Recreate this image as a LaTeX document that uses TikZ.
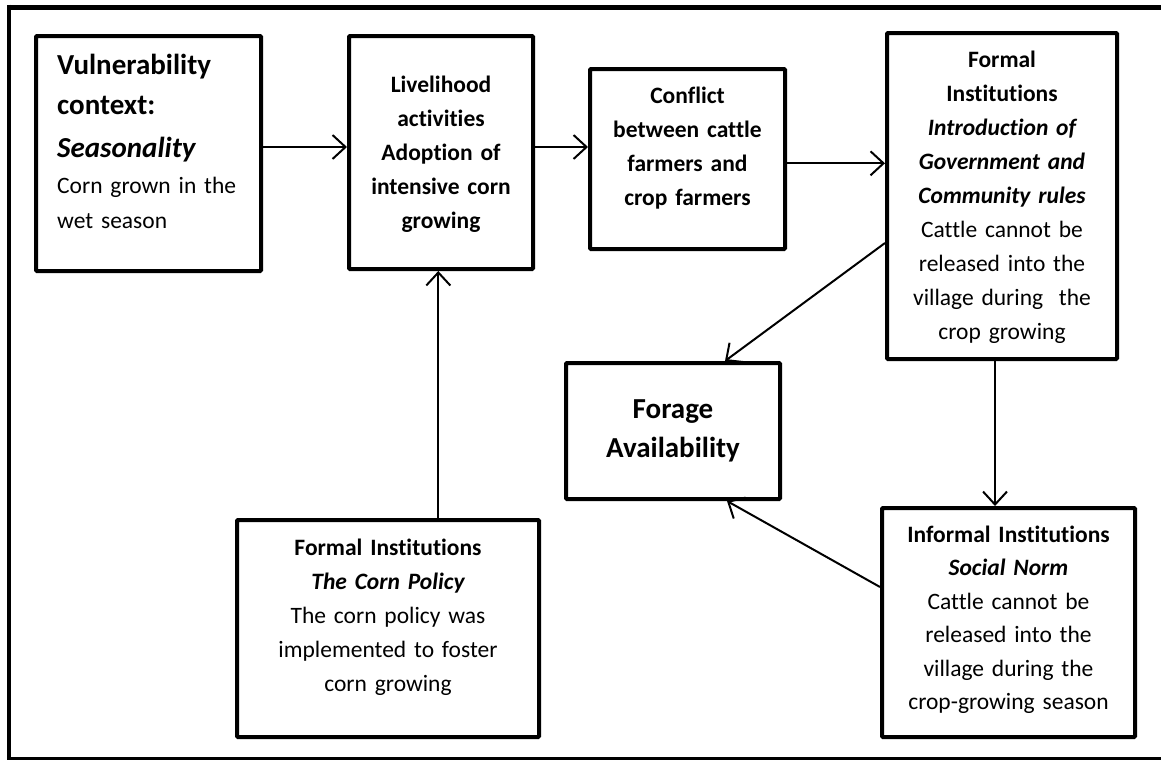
\documentclass[tikz,border=0pt]{standalone}
\usepackage{fontspec}
\setmainfont{Carlito}[Ligatures=NoCommon]
\usetikzlibrary{arrows.meta}
% keep a fixed baseline distance even for lines with tall glyphs
\lineskiplimit=-1000pt
\begin{document}
\begin{tikzpicture}[x=1pt,y=-1pt,
  box/.style={draw,line width=4pt,rounded corners=1pt,inner sep=0pt,
    rectangle,anchor=center},
  txt/.style={inner sep=0pt,anchor=base,align=center,text width=#1,
    font=\fontsize{23.5}{34}\selectfont},
  link/.style={line width=2pt,-{Straight Barb[length=13pt,width=24pt,line width=2pt]}}]
\useasboundingbox (0,0) rectangle (1161,761);

% outer frame (open on the right)
\draw[line width=5pt] (1161,7) -- (9,7);
\draw[line width=4.5pt] (9,4.5) -- (9,759.8);
\draw[line width=2.5pt] (7,758.5) -- (1161,758.5);

% boxes
\node[box,minimum width=225pt,minimum height=235pt] (b1) at (148.5,153.5) {};
\node[box,minimum width=184pt,minimum height=233pt] (b2) at (441,152.5) {};
\node[box,minimum width=195pt,minimum height=180pt] (b3) at (687.5,159) {};
\node[box,minimum width=230pt,minimum height=326pt] (b4) at (1002,196) {};
\node[box,minimum width=214pt,minimum height=136pt] (b5) at (673,431) {};
\node[box,minimum width=302pt,minimum height=217pt] (b6) at (388,628.5) {};
\node[box,minimum width=253pt,minimum height=229pt] (b7) at (1008.5,622.5) {};

% texts
\node[txt=210pt,anchor=base west,align=left,
  font=\fontsize{23.5}{35.5}\selectfont] (t1) at (57,74)
  {{\fontsize{29}{35.5}\selectfont\bfseries Vulnerability\\[4.5pt]
    context:\\[7.5pt]
    \itshape Seasonality}\\[0.5pt]
   Corn grown in the\\
   wet season};
\node[txt=176pt,font=\fontsize{23.5}{34}\selectfont\bfseries] (t2) at (441,92)
  {Livelihood\\activities\\Adoption of\\intensive corn\\growing};
\node[txt=186pt,font=\fontsize{23.5}{34.3}\selectfont\bfseries] (t3) at (687.5,103)
  {Conflict\\between cattle\\farmers and\\crop farmers};
\node[txt=222pt] (t4) at (1002,67)
  {{\bfseries Formal\\Institutions\\
    \itshape Introduction of\\Government and\\Community rules}\\
   Cattle cannot be\\released into the\\village during\ \ the\\crop growing};
\node[txt=206pt,font=\fontsize{29}{39.5}\selectfont\bfseries] (t5) at (673,418)
  {Forage\\Availability};
\node[txt=294pt] (t6) at (388,555)
  {{\bfseries Formal Institutions\\
    \itshape The Corn Policy}\\
   The corn policy was\\implemented to foster\\corn growing};
\node[txt=245pt,font=\fontsize{23.5}{33.5}\selectfont] (t7) at (1008.5,542)
  {{\bfseries Informal Institutions\\
    \itshape Social Norm}\\
   Cattle cannot be\\released into the\\village during the\\crop-growing season};

% connectors
\draw[link] ([yshift=6.5pt]b1.east) -- ([yshift=6.5pt]b1.east -| b2.west);
\draw[link] ([yshift=5.5pt]b2.east) -- ([yshift=5.5pt]b2.east -| b3.west);
\draw[link] ([yshift=-4.3pt]b3.east) -- ([yshift=-4.3pt]b3.east -| b4.west);
\draw[link] ([xshift=-2.7pt]b2.south |- b6.north) -- ([xshift=-2.7pt]b2.south);
\draw[link] ([xshift=-7pt]b4.south) -- ([xshift=-7pt]b4.south |- b7.north);
\draw[link] ([yshift=-47pt]b4.west) -- ([xshift=52pt]b5.north);
\draw[link] ([yshift=35.5pt]b7.west) -- ([xshift=54pt]b5.south);
\end{tikzpicture}
\end{document}
